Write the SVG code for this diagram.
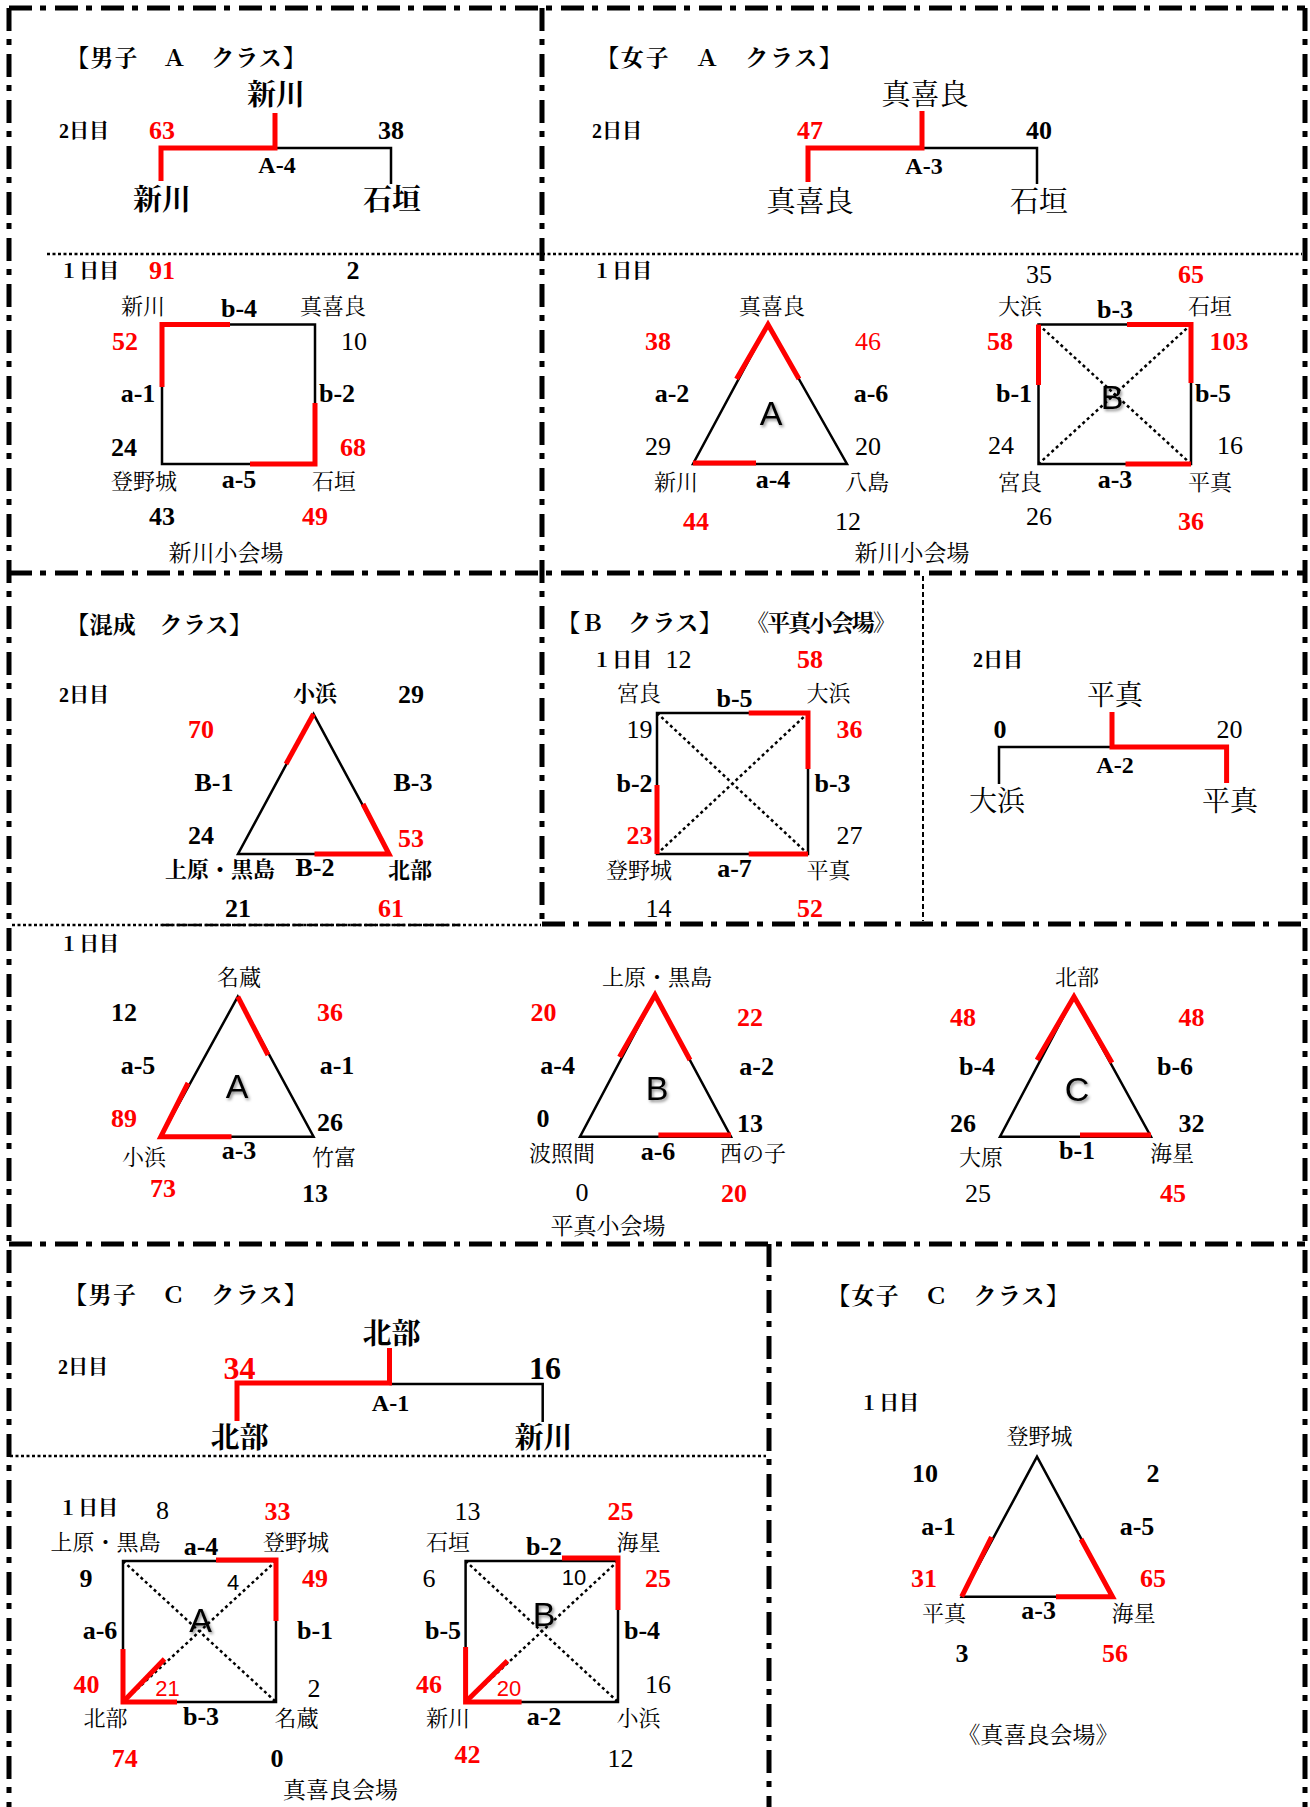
<svg xmlns="http://www.w3.org/2000/svg" width="1310" height="1807" viewBox="0 0 1310 1807">
<defs>
<filter id="sh" x="-30%" y="-30%" width="160%" height="160%"><feDropShadow dx="1.5" dy="2" stdDeviation="1.5" flood-color="#000" flood-opacity="0.45"/></filter>
<style>
text{font-family:"Liberation Serif","Noto Serif CJK JP","Noto Sans CJK JP",serif;text-anchor:middle;fill:#000}
.l{text-anchor:start}
.n{font-size:26px;font-weight:bold}
.nn{font-size:26px;font-weight:normal}
.r{fill:#f00}
.cd{font-size:26px;font-weight:bold}
.fc{font-size:24px;font-weight:bold}
.nm{font-size:22px}
.nb{font-size:22px;font-weight:bold}
.bg{font-size:29px;font-weight:bold}
.bm{font-size:29px;font-weight:normal}
.tt{font-size:23px;font-weight:bold}
.dy{font-size:20px;font-weight:bold}
.lt{font-family:"Liberation Sans",sans-serif;font-size:34px;filter:url(#sh)}
.sm{font-family:"Liberation Sans",sans-serif;font-size:22px}
.e{fill:none;stroke:#000;stroke-width:2.5}
.rd{fill:none;stroke:#f00;stroke-width:5}
.dg{fill:none;stroke:#000;stroke-width:2.5;stroke-dasharray:3 3}
.bd{fill:none;stroke:#000;stroke-width:5;stroke-dasharray:23 8 6 9}
.dt{fill:none;stroke:#000;stroke-width:2.5;stroke-dasharray:3 2.5}
</style>
</defs>
<rect x="0" y="0" width="1310" height="1807" fill="#fff"/>

<g id="frames">
<path class="bd" d="M9,8 H1305"/>
<path class="bd" d="M9,8 V1807"/>
<path class="bd" d="M1305,8 V1807"/>
<path class="bd" d="M542,8 V924"/>
<path class="bd" d="M9,573 H1305"/>
<path class="bd" d="M542,924 H1305"/>
<path class="bd" d="M9,1244 H1305"/>
<path class="bd" d="M769,1244 V1807"/>
<path class="dt" d="M47,254 H1302"/>
<path class="dt" d="M12,925 H541"/>
<path fill="none" stroke="#000" stroke-width="2.5" stroke-dasharray="11 3.5" d="M162,925 H460"/>
<path fill="none" stroke="#000" stroke-width="2" stroke-dasharray="5 3" d="M923,576 V921"/>
<path class="dt" d="M10,1456 H766"/>
</g>

<g id="connectors">
<g id="c-men-a">
<path class="e" d="M275,148 H391 V184"/>
<path class="rd" d="M275,113 V148 H161 V181"/>
<rect class="e" x="162" y="324.5" width="153" height="139.5"/>
<path class="rd" d="M230,324.5 H162 V387"/>
<path class="rd" d="M250,464 H315 V403"/>
</g>
<g id="c-women-a">
<path class="e" d="M922,148 H1037 V184"/>
<path class="rd" d="M922,111 V148 H808 V182"/>
<path class="e" d="M768,324.5 L693,464 L847,464 Z"/>
<path class="rd" d="M736.5,379 L768,324.5 L799,379"/>
<path class="rd" d="M693,463 H756"/>
<rect class="e" x="1038.5" y="324.5" width="152.5" height="139.5"/>
<path class="dg" d="M1038.5,324.5 L1191,464 M1191,324.5 L1038.5,464"/>
<path class="rd" d="M1038.5,385 V324.5"/>
<path class="rd" d="M1127,324.5 H1191 V383"/>
<path class="rd" d="M1125.5,464 H1191"/>
</g>
<g id="c-mixed">
<path class="e" d="M313.5,714 L238,854 L389,854 Z"/>
<path class="rd" d="M313.5,714 L286,764"/>
<path class="rd" d="M363,804 L389,854 H314.5"/>
</g>
<g id="c-b">
<rect class="e" x="657" y="713" width="151" height="141"/>
<path class="dg" d="M657,713 L808,854 M808,713 L657,854"/>
<path class="rd" d="M748.7,713 H808 V769"/>
<path class="rd" d="M657,785 V854"/>
<path class="rd" d="M748.7,854 H808"/>
<path class="e" d="M1112,747 H999 V784"/>
<path class="rd" d="M1112,712 V747 H1226.6 V783"/>
</g>
<g id="c-day1">
<path class="e" d="M237.8,996.7 L160.8,1136.7 L313.6,1136.7 Z"/>
<path class="rd" d="M237.8,996.7 L268,1055"/>
<path class="rd" d="M188,1083 L160.8,1136.7 H231.5"/>
<path class="e" d="M655,995 L580,1136.7 L731,1136.7 Z"/>
<path class="rd" d="M619.5,1057 L655,995 L690,1060"/>
<path class="rd" d="M658.4,1135 H731"/>
<path class="e" d="M1074,996.7 L1000,1136.7 L1151,1136.7 Z"/>
<path class="rd" d="M1037,1060 L1074,996.7 L1112,1062.7"/>
<path class="rd" d="M1080,1135 H1151"/>
</g>
<g id="c-men-c">
<path class="e" d="M389.5,1384 H542.7 V1422"/>
<path class="rd" d="M389.5,1348 V1383 H237 V1421"/>
<rect class="e" x="123" y="1561" width="153" height="141"/>
<path class="dg" d="M123,1561 L276,1702 M276,1561 L123,1702"/>
<path class="rd" d="M216,1560 H276 V1621"/>
<path class="rd" d="M123,1649 V1702 H177"/>
<path class="rd" d="M123,1702 L164.5,1659"/>
<rect class="e" x="465.6" y="1561" width="152.4" height="141"/>
<path class="dg" d="M465.6,1561 L618,1702 M618,1561 L465.6,1702"/>
<path class="rd" d="M562,1558 H618 V1610"/>
<path class="rd" d="M465.6,1647 V1702 H521.6"/>
<path class="rd" d="M465.6,1702 L507.4,1660.7"/>
</g>
<g id="c-women-c">
<path class="e" d="M1037,1456.7 L961.7,1596.7 L1112.5,1596.7 Z"/>
<path class="rd" d="M961.7,1596.7 L991.5,1537"/>
<path class="rd" d="M1081,1539 L1112.5,1596.7 H1056"/>
</g>
</g>

<g id="men-a">
<text class="tt l" x="66" y="66" textLength="240" lengthAdjust="spacing">【男子　Ａ　クラス】</text>
<text class="dy l" x="59" y="138">2日目</text>
<g id="ma-final"><text class="bg" x="276" y="105">新川</text></g>
<text class="n r" x="162" y="139">63</text>
<text class="n" x="391" y="139">38</text>
<text class="fc" x="277" y="173">A-4</text>
<g id="ma-f1"><text class="bg" x="162" y="210">新川</text></g>
<g id="ma-f2"><text class="bg" x="392" y="210">石垣</text></g>
<text class="dy l" x="59" y="278">１日目</text>
<text class="n r" x="162" y="279">91</text>
<text class="n" x="353" y="279">2</text>
<g id="ma-arakawa"><text class="nm" x="143" y="314">新川</text></g>
<text class="cd" x="239" y="317">b-4</text>
<g id="ma-makira"><text class="nm" x="333" y="314">真喜良</text></g>
<text class="n r" x="125" y="350">52</text>
<text class="nn" x="354" y="350">10</text>
<text class="cd" x="138" y="402">a-1</text>
<text class="cd" x="337" y="402">b-2</text>
<text class="n" x="124" y="456">24</text>
<text class="n r" x="353" y="456">68</text>
<g id="ma-nobaru"><text class="nm" x="144" y="489">登野城</text></g>
<text class="cd" x="239" y="488">a-5</text>
<g id="ma-ishigaki"><text class="nm" x="334" y="489">石垣</text></g>
<text class="n" x="162" y="525">43</text>
<text class="n r" x="315" y="525">49</text>
<text class="nm" x="226" y="561" style="font-size:23px">新川小会場</text>
</g>

<g id="women-a">
<text class="tt l" x="596" y="66" textLength="246" lengthAdjust="spacing">【女子　Ａ　クラス】</text>
<text class="dy l" x="592" y="138">2日目</text>
<g id="wa-final"><text class="bm" x="925" y="105">真喜良</text></g>
<text class="n r" x="810" y="139">47</text>
<text class="n" x="1039" y="139">40</text>
<text class="fc" x="924" y="174">A-3</text>
<g id="wa-f1"><text class="bm" x="810" y="212">真喜良</text></g>
<g id="wa-f2"><text class="bm" x="1039" y="212">石垣</text></g>
<text class="dy l" x="592" y="278">１日目</text>
<text class="lt" x="771" y="425">A</text>
<g id="wa-makira"><text class="nm" x="772" y="314">真喜良</text></g>
<text class="n r" x="658" y="350">38</text>
<text class="nn r" x="868" y="350">46</text>
<text class="cd" x="672" y="402">a-2</text>
<text class="cd" x="871" y="402">a-6</text>
<text class="nn" x="658" y="455">29</text>
<text class="nn" x="868" y="455">20</text>
<g id="wa-arakawa"><text class="nm" x="676" y="490">新川</text></g>
<text class="cd" x="773" y="488">a-4</text>
<g id="wa-hatoma"><text class="nm" x="867" y="490">八島</text></g>
<text class="n r" x="696" y="530">44</text>
<text class="nn" x="848" y="530">12</text>
<text class="lt" x="1112" y="409">B</text>
<text class="nn" x="1039" y="283">35</text>
<text class="n r" x="1191" y="283">65</text>
<g id="wa-ohama"><text class="nm" x="1020" y="314">大浜</text></g>
<text class="cd" x="1115" y="318">b-3</text>
<g id="wa-ishigaki"><text class="nm" x="1210" y="314">石垣</text></g>
<text class="n r" x="1000" y="350">58</text>
<text class="n r" x="1229" y="350">103</text>
<text class="cd" x="1014" y="402">b-1</text>
<text class="cd" x="1213" y="402">b-5</text>
<text class="nn" x="1001" y="454">24</text>
<text class="nn" x="1230" y="454">16</text>
<g id="wa-miyara"><text class="nm" x="1020" y="490">宮良</text></g>
<text class="cd" x="1115" y="488">a-3</text>
<g id="wa-hirae"><text class="nm" x="1210" y="490">平真</text></g>
<text class="nn" x="1039" y="525">26</text>
<text class="n r" x="1191" y="530">36</text>
<text class="nm" x="912" y="561" style="font-size:23px">新川小会場</text>
</g>

<g id="mixed">
<text class="tt l" x="66" y="633" textLength="186" lengthAdjust="spacing">【混成　クラス】</text>
<text class="dy l" x="59" y="702">2日目</text>
<g id="mx-kohama"><text class="nb" x="315" y="701">小浜</text></g>
<text class="n" x="411" y="703">29</text>
<text class="n r" x="201" y="738">70</text>
<text class="cd" x="214" y="791">B-1</text>
<text class="cd" x="413" y="791">B-3</text>
<text class="n" x="201" y="844">24</text>
<text class="n r" x="411" y="847">53</text>
<g id="mx-uehara"><text class="nb" x="220" y="877">上原・黒島</text></g>
<text class="cd" x="315" y="876">B-2</text>
<g id="mx-hokubu"><text class="nb" x="410" y="878">北部</text></g>
<text class="n" x="238" y="917">21</text>
<text class="n r" x="391" y="917">61</text>
</g>

<g id="b-class">
<text class="tt l" x="557" y="631" textLength="165" lengthAdjust="spacing">【Ｂ　クラス】</text>
<text class="tt l" x="746" y="631" textLength="150" lengthAdjust="spacing">《平真小会場》</text>
<text class="dy l" x="592" y="667">１日目</text>
<text class="nn" x="678.5" y="668">12</text>
<text class="n r" x="810" y="668">58</text>
<g id="b-miyara"><text class="nm" x="639" y="701">宮良</text></g>
<text class="cd" x="734.5" y="707">b-5</text>
<g id="b-ohama"><text class="nm" x="828.5" y="701">大浜</text></g>
<text class="nn" x="639.5" y="738">19</text>
<text class="n r" x="849.5" y="738">36</text>
<text class="cd" x="634.5" y="792">b-2</text>
<text class="cd" x="832.5" y="792">b-3</text>
<text class="n r" x="639.5" y="844">23</text>
<text class="nn" x="849.5" y="844">27</text>
<g id="b-nobaru"><text class="nm" x="639" y="878">登野城</text></g>
<text class="cd" x="734.5" y="877">a-7</text>
<g id="b-hirae"><text class="nm" x="828.5" y="878">平真</text></g>
<text class="nn" x="658.6" y="917">14</text>
<text class="n r" x="810" y="917">52</text>
</g>

<g id="b-final">
<text class="dy l" x="973" y="667">2日目</text>
<g id="bf-winner"><text class="bm" x="1115" y="705" style="font-size:28px">平真</text></g>
<text class="n" x="1000" y="738">0</text>
<text class="nn" x="1229.5" y="738">20</text>
<text class="fc" x="1115" y="773">A-2</text>
<g id="bf-ohama"><text class="bm" x="997" y="811" style="font-size:28px">大浜</text></g>
<g id="bf-hirae"><text class="bm" x="1230" y="811" style="font-size:28px">平真</text></g>
</g>

<g id="day1-league">
<text class="dy l" x="59" y="951">１日目</text>
<text class="lt" x="237" y="1098">A</text>
<g id="la-nagura"><text class="nm" x="239" y="985">名蔵</text></g>
<text class="n" x="124" y="1021">12</text>
<text class="n r" x="330" y="1021">36</text>
<text class="cd" x="138" y="1074">a-5</text>
<text class="cd" x="337" y="1074">a-1</text>
<text class="n r" x="124" y="1127">89</text>
<text class="n" x="330" y="1131">26</text>
<g id="la-kohama"><text class="nm" x="144" y="1165">小浜</text></g>
<text class="cd" x="239" y="1159">a-3</text>
<g id="la-taketomi"><text class="nm" x="334" y="1165">竹富</text></g>
<text class="n r" x="163" y="1197">73</text>
<text class="n" x="315" y="1202">13</text>

<text class="lt" x="657" y="1100">B</text>
<g id="lb-uehara"><text class="nm" x="657" y="985">上原・黒島</text></g>
<text class="n r" x="543.6" y="1021">20</text>
<text class="n r" x="750" y="1026">22</text>
<text class="cd" x="557.6" y="1074">a-4</text>
<text class="cd" x="756.6" y="1075">a-2</text>
<text class="n" x="543" y="1127">0</text>
<text class="n" x="750" y="1132">13</text>
<g id="lb-hateruma"><text class="nm" x="562" y="1161">波照間</text></g>
<text class="cd" x="658" y="1160">a-6</text>
<g id="lb-nishinoko"><text class="nm" x="753" y="1161">西の子</text></g>
<text class="nn" x="582" y="1201">0</text>
<text class="n r" x="734" y="1202">20</text>
<text class="nm" x="608" y="1234" style="font-size:23px">平真小会場</text>

<text class="lt" x="1077" y="1101">C</text>
<g id="lc-hokubu"><text class="nm" x="1077" y="985">北部</text></g>
<text class="n r" x="963" y="1026">48</text>
<text class="n r" x="1191.5" y="1026">48</text>
<text class="cd" x="977" y="1075">b-4</text>
<text class="cd" x="1175" y="1075">b-6</text>
<text class="n" x="963" y="1132">26</text>
<text class="n" x="1191.5" y="1132">32</text>
<g id="lc-ohara"><text class="nm" x="981" y="1165">大原</text></g>
<text class="cd" x="1077" y="1159">b-1</text>
<g id="lc-kaisei"><text class="nm" x="1172" y="1161">海星</text></g>
<text class="nn" x="978" y="1202">25</text>
<text class="n r" x="1173" y="1202">45</text>
</g>

<g id="men-c">
<text class="tt l" x="64" y="1303" textLength="243" lengthAdjust="spacing">【男子　Ｃ　クラス】</text>
<text class="dy l" x="58" y="1374">2日目</text>
<g id="mc-final"><text class="bg" x="391.5" y="1344">北部</text></g>
<text class="n r" x="239.5" y="1379" style="font-size:32px">34</text>
<text class="n" x="545" y="1379" style="font-size:32px">16</text>
<text class="fc" x="390.5" y="1411">A-1</text>
<g id="mc-f1"><text class="bg" x="239.5" y="1448">北部</text></g>
<g id="mc-f2"><text class="bg" x="543.5" y="1448">新川</text></g>
<text class="dy l" x="58" y="1515">１日目</text>
<text class="lt" x="200.5" y="1632">A</text>
<text class="sm" x="233" y="1590">4</text>
<text class="sm r" x="167.5" y="1696">21</text>
<text class="nn" x="162.5" y="1519">8</text>
<text class="n r" x="277.6" y="1520">33</text>
<g id="mc-uehara"><text class="nm" x="105.6" y="1550">上原・黒島</text></g>
<text class="cd" x="201" y="1555">a-4</text>
<g id="mc-nobaru"><text class="nm" x="296" y="1550">登野城</text></g>
<text class="n" x="86" y="1587">9</text>
<text class="n r" x="315" y="1587">49</text>
<text class="cd" x="100" y="1639">a-6</text>
<text class="cd" x="315" y="1639">b-1</text>
<text class="n r" x="86.5" y="1693">40</text>
<text class="nn" x="314" y="1697">2</text>
<g id="mc-hokubu"><text class="nm" x="105.6" y="1726">北部</text></g>
<text class="cd" x="201" y="1725">b-3</text>
<g id="mc-nagura"><text class="nm" x="296.5" y="1726">名蔵</text></g>
<text class="n r" x="124.8" y="1767">74</text>
<text class="n" x="277" y="1767">0</text>

<text class="lt" x="544" y="1626">B</text>
<text class="sm" x="574" y="1585">10</text>
<text class="sm r" x="509" y="1696">20</text>
<text class="nn" x="467.4" y="1520">13</text>
<text class="n r" x="620.4" y="1520">25</text>
<g id="mc-ishigaki"><text class="nm" x="448" y="1550">石垣</text></g>
<text class="cd" x="544" y="1555">b-2</text>
<g id="mc-kaisei"><text class="nm" x="638.5" y="1550">海星</text></g>
<text class="nn" x="429" y="1587">6</text>
<text class="n r" x="658" y="1587">25</text>
<text class="cd" x="443" y="1639">b-5</text>
<text class="cd" x="642" y="1639">b-4</text>
<text class="n r" x="429" y="1693">46</text>
<text class="nn" x="658" y="1693">16</text>
<g id="mc-arakawa"><text class="nm" x="448" y="1726">新川</text></g>
<text class="cd" x="544" y="1725">a-2</text>
<g id="mc-kohama"><text class="nm" x="638.5" y="1726">小浜</text></g>
<text class="n r" x="467.4" y="1763">42</text>
<text class="nn" x="620.4" y="1767">12</text>
<text class="nm" x="340.6" y="1798" style="font-size:23px">真喜良会場</text>
</g>

<g id="women-c">
<text class="tt l" x="827" y="1304" textLength="242" lengthAdjust="spacing">【女子　Ｃ　クラス】</text>
<text class="dy l" x="859" y="1410">１日目</text>
<g id="wc-nobaru"><text class="nm" x="1039.5" y="1444">登野城</text></g>
<text class="n" x="925" y="1482">10</text>
<text class="n" x="1153" y="1482">2</text>
<text class="cd" x="938.5" y="1535">a-1</text>
<text class="cd" x="1137" y="1535">a-5</text>
<text class="n r" x="924" y="1587">31</text>
<text class="n r" x="1153" y="1587">65</text>
<g id="wc-hirae"><text class="nm" x="944" y="1621">平真</text></g>
<text class="cd" x="1038.7" y="1619">a-3</text>
<g id="wc-kaisei"><text class="nm" x="1133.6" y="1621">海星</text></g>
<text class="n" x="962" y="1662">3</text>
<text class="n r" x="1115" y="1662">56</text>
<text class="nm" x="1038" y="1743" style="font-size:23px">《真喜良会場》</text>
</g>
</svg>
